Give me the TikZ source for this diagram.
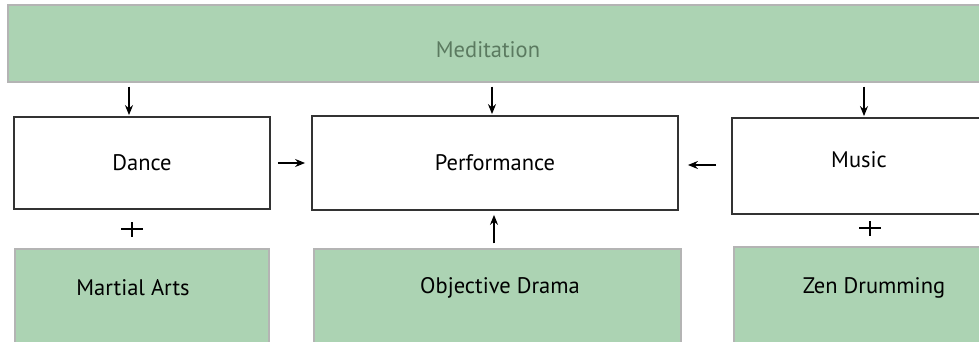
\documentclass[tikz,border=0pt]{standalone}
\usepackage{fontspec}
\setmainfont{PT Sans}
\usetikzlibrary{arrows.meta}
\definecolor{boxgreen}{HTML}{ACD3B3}
\definecolor{greenedge}{HTML}{B4B4B4}
\definecolor{medtext}{HTML}{5B7A60}
\definecolor{darkedge}{HTML}{333333}
\tikzset{
  greenbox/.style={draw=greenedge, fill=boxgreen, line width=1.4pt, inner sep=0pt},
  whitebox/.style={draw=darkedge, fill=white, line width=1.8pt, inner sep=0pt, font=\fontsize{22.5}{26}\selectfont},
  lbl/.style={inner sep=0pt, font=\fontsize{22.5}{26}\selectfont},
  arr/.style={-{Stealth[length=10pt,width=8pt]}, line width=1.3pt},
  plussign/.style={line width=1.1pt}
}
\begin{document}
\begin{tikzpicture}[x=1pt,y=-1pt]
\useasboundingbox (0,0) rectangle (979,342);
\clip (0,0) rectangle (979,342);
% top box
\node[greenbox, minimum width=1000pt, minimum height=77pt] (med) at (508,43.5) {};
\node[lbl, text=medtext] (medt) at (488,50) {Meditation};
% middle row
\node[whitebox, minimum width=256pt, minimum height=92pt] (dance) at (142,163) {Dance};
\node[whitebox, minimum width=366pt, minimum height=94pt] (perf) at (495,163) {Performance};
\node[whitebox, minimum width=256pt, minimum height=96pt] (music) at (860,166) {};
\node[lbl] (musict) at (859,160) {Music};
% bottom row
\node[greenbox, minimum width=254pt, minimum height=110pt] (ma) at (142,304) {};
\node[lbl] (mat) at (133,288) {Martial Arts};
\node[greenbox, minimum width=367pt, minimum height=110pt] (od) at (497.5,304) {};
\node[lbl] (odt) at (500,288) {Objective Drama};
\node[greenbox, minimum width=280pt, minimum height=110pt] (zd) at (874,302) {};
\node[lbl] (zdt) at (874,288) {Zen Drumming};
% arrows from meditation
\draw[arr, shorten <=4pt, shorten >=1pt] ([xshift=-13pt]dance.north |- med.south) -- ([xshift=-13pt]dance.north);
\draw[arr, shorten <=4pt, shorten >=1pt] ([xshift=-3pt]perf.north |- med.south) -- ([xshift=-3pt]perf.north);
\draw[arr, shorten <=4pt, shorten >=1pt] ([xshift=4pt]music.north |- med.south) -- ([xshift=4pt]music.north);
% side arrows
\draw[arr, shorten <=7pt, shorten >=6pt] (dance.east) -- (dance.east -| perf.west);
\draw[arr, shorten <=15pt, shorten >=9pt] ([yshift=1pt]music.west) -- ([yshift=1pt]music.west -| perf.east);
\draw[arr, shorten <=5pt, shorten >=4pt] ([xshift=-3.5pt]od.north) -- ([xshift=-3.5pt]od.north |- perf.south);
% plus signs
\coordinate (p1) at (132,229);
\coordinate (p2) at (870,228);
\foreach \p in {p1,p2}{
  \draw[plussign] ([xshift=-11pt]\p) -- ([xshift=11pt]\p);
  \draw[plussign] ([yshift=-7.5pt]\p) -- ([yshift=7.5pt]\p);
}
\end{tikzpicture}
\end{document}
